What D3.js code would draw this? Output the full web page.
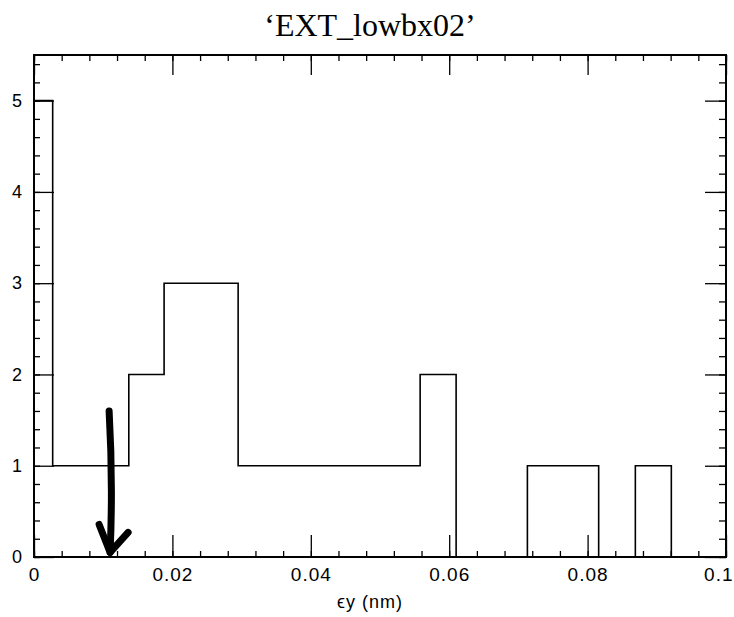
<!DOCTYPE html>
<html>
<head>
<meta charset="utf-8">
<script src="https://cdn.jsdelivr.net/npm/d3@7"></script>
<style>
  body { margin: 0; background: #fff; }
  svg { display: block; }
  .tick text { font-family: "Liberation Sans", Arial, sans-serif; }
</style>
</head>
<body>
<svg id="chart"></svg>
<script>
// Histogram bin edges (nm) and counts
const binEdges = [0, 0.0027, 0.0137, 0.0188, 0.0295, 0.0558, 0.0610, 0.0713, 0.0816, 0.0869, 0.0921, 0.1];
const binCounts = [5, 1, 2, 3, 1, 2, 0, 1, 0, 1, 0];

// Axis ticks
const xMajorTicks = [0, 0.02, 0.04, 0.06, 0.08, 0.1];
const xTickLabels = ['0', '0.02', '0.04', '0.06', '0.08', '0.1'];
const xMinorTicks = d3.range(0, 0.1001, 0.004);
const yMajorTicks = [0, 1, 2, 3, 4, 5];
const yTickLabels = ['0', '1', '2', '3', '4', '5'];
const yMinorTicks = d3.range(0, 5.51, 0.2);

// Hand-drawn arrow annotation (data coords)
const arrowX = 0.0110;
const arrowY = [1.6, 0.05];

const width = 734, height = 617;
const margin = {top: 55, right: 8, bottom: 60, left: 34};

const svg = d3.select('#chart')
    .attr('width', width)
    .attr('height', height);

const x = d3.scaleLinear()
    .domain([0, 0.1])
    .range([margin.left, width - margin.right]);
const y = d3.scaleLinear()
    .domain([0, 5.5])
    .range([height - margin.bottom, margin.top]);

// Title
svg.append('text')
    .attr('x', 370)
    .attr('y', 36)
    .attr('text-anchor', 'middle')
    .style('font-family', '"Liberation Serif", "Times New Roman", serif')
    .style('font-size', '32px')
    .text('\u2018EXT_lowbx02\u2019');

// helper to draw an axis with major + minor ticks, inward
function drawAxis(axisFn, scale, translate, majors, minors, labels, majorLen, minorLen) {
    const gMinor = svg.append('g')
        .attr('transform', translate)
        .call(axisFn(scale).tickValues(minors).tickSize(-minorLen).tickFormat(''));
    gMinor.select('.domain').remove();
    const g = svg.append('g')
        .attr('transform', translate)
        .call(axisFn(scale).tickValues(majors).tickSize(-majorLen)
            .tickFormat(labels ? (d, i) => labels[i] : ''));
    g.select('.domain').remove();
    g.selectAll('line').attr('stroke-width', 1.3);
    gMinor.selectAll('line').attr('stroke-width', 1.3);
    return g;
}

const x0 = x.range()[0], x1 = x.range()[1];
const y0 = y.range()[0], y1 = y.range()[1];

const bottomAxis = drawAxis(d3.axisBottom, x, `translate(0,${y0})`, xMajorTicks, xMinorTicks, xTickLabels, 22, 6);
bottomAxis.selectAll('text')
    .attr('y', 11)
    .style('font-size', '19px')
    .style('letter-spacing', '1px');
// last label sits against the page edge
bottomAxis.selectAll('text').filter((d, i) => i === xMajorTicks.length - 1)
    .attr('text-anchor', 'end')
    .attr('dx', width - x1 - 1);
drawAxis(d3.axisTop, x, `translate(0,${y1})`, xMajorTicks, xMinorTicks, null, 20, 6);

const leftAxis = drawAxis(d3.axisLeft, y, `translate(${x0},0)`, yMajorTicks, yMinorTicks, yTickLabels, 20, 6);
leftAxis.selectAll('text')
    .attr('x', -12)
    .style('font-size', '18px');
drawAxis(d3.axisRight, y, `translate(${x1},0)`, yMajorTicks, yMinorTicks, null, 21, 7);

// Frame
svg.append('rect')
    .attr('x', x0)
    .attr('y', y1)
    .attr('width', x1 - x0)
    .attr('height', y0 - y1)
    .attr('fill', 'none')
    .attr('stroke', '#000')
    .attr('stroke-width', 2);

// Step histogram outline
const steps = [[binEdges[0], 0]];
binCounts.forEach((c, i) => {
    steps.push([binEdges[i], c]);
    steps.push([binEdges[i + 1], c]);
});
steps.push([binEdges[binEdges.length - 1], 0]);

svg.append('path')
    .datum(steps)
    .attr('fill', 'none')
    .attr('stroke', '#000')
    .attr('stroke-width', 1.6)
    .attr('d', d3.line().x(d => x(d[0])).y(d => y(d[1])));

// Arrow annotation
const ax = x(arrowX);
const ayTop = y(arrowY[0]), ayBot = y(arrowY[1]);
svg.append('path')
    .attr('d', `M${ax - 1},${ayTop} Q${ax + 3},${(ayTop + ayBot) / 2} ${ax},${ayBot}`)
    .attr('fill', 'none')
    .attr('stroke', '#000')
    .attr('stroke-width', 7)
    .attr('stroke-linecap', 'round');
svg.append('path')
    .attr('d', `M${ax - 11},${ayBot - 28} L${ax},${ayBot} L${ax + 18},${ayBot - 20}`)
    .attr('fill', 'none')
    .attr('stroke', '#000')
    .attr('stroke-width', 7)
    .attr('stroke-linecap', 'round')
    .attr('stroke-linejoin', 'round');

// X axis title
svg.append('text')
    .attr('x', 370)
    .attr('y', 608)
    .attr('text-anchor', 'middle')
    .style('font-family', '"Liberation Sans", Arial, sans-serif')
    .style('font-size', '18px')
    .style('letter-spacing', '1px')
    .text('\u03F5y (nm)');
</script>
</body>
</html>
